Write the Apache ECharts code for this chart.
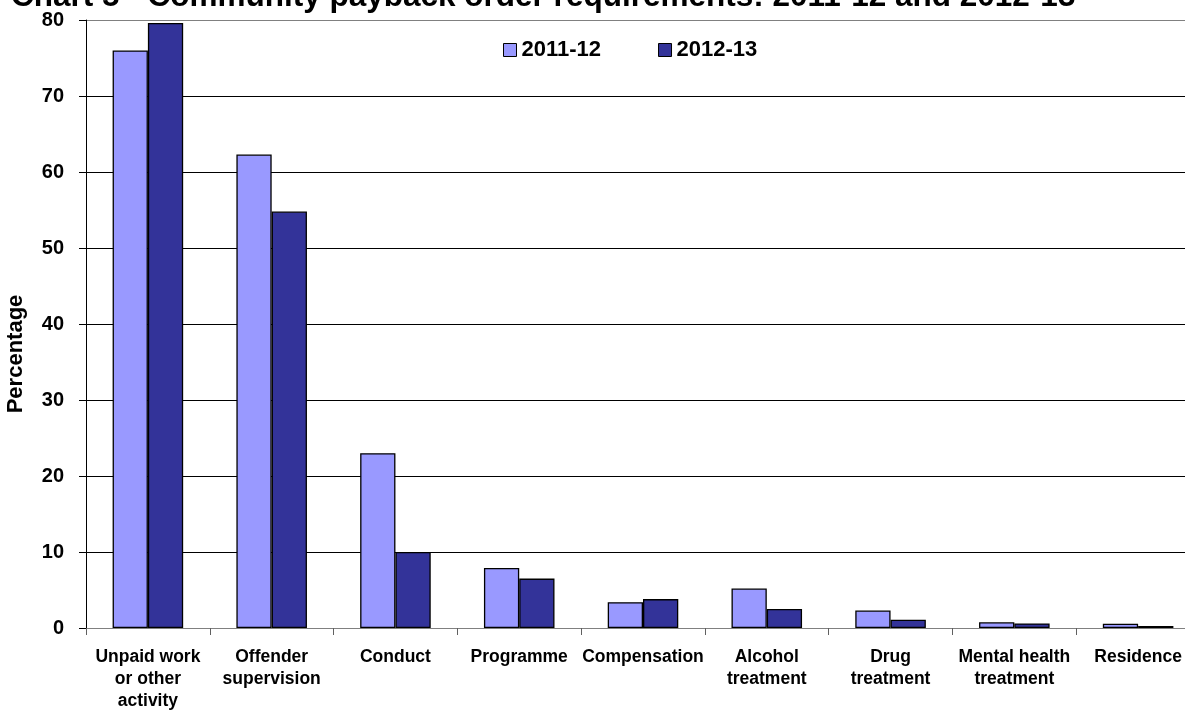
<!DOCTYPE html>
<html>
<head>
<meta charset="utf-8">
<script src="https://cdn.jsdelivr.net/npm/echarts@6/dist/echarts.min.js"></script>
<style>html,body{margin:0;padding:0;background:#fff;}#c{width:1185px;height:711px;}</style>
</head>
<body>
<div id="c"></div>
<script>
var categories = ["Unpaid work\nor other\nactivity", "Offender\nsupervision", "Conduct", "Programme", "Compensation", "Alcohol\ntreatment", "Drug\ntreatment", "Mental health\ntreatment", "Residence"];
var series2011 = [76.0, 62.3, 23.0, 7.9, 3.4, 5.2, 2.3, 0.75, 0.57];
var series2012 = [79.6, 54.8, 10.0, 6.5, 3.8, 2.5, 1.1, 0.6, 0.26];
var seriesNames = ["2011-12", "2012-13"];
var titleText = "Chart 5 - Community payback order requirements: 2011-12 and 2012-13";
var yAxisName = "Percentage";

var font = "Liberation Sans, Arial, sans-serif";
var chart = echarts.init(document.getElementById('c'), null, {renderer: 'canvas'});
chart.setOption({
  animation: false,
  backgroundColor: '#fff',
  title: {
    text: titleText, left: 11, top: -18, padding: 0,
    textStyle: {fontFamily: font, fontWeight: 'bold', fontSize: 31.5, color: '#000', lineHeight: 31}
  },
  legend: {
    data: seriesNames, left: 503, top: 39, padding: 0, itemGap: 57,
    itemWidth: 13, itemHeight: 13, icon: 'rect',
    textStyle: {fontFamily: font, fontWeight: 'bold', fontSize: 22, color: '#000', lineHeight: 22},
    itemStyle: {borderColor: '#000', borderWidth: 1}
  },
  grid: {left: 86, top: 20, right: -15, bottom: 83, containLabel: false, outerBoundsMode: 'none'},
  xAxis: {
    type: 'category', data: categories, boundaryGap: true,
    axisLine: {lineStyle: {color: '#808080', width: 1}},
    axisTick: {show: true, length: 7, interval: 0, lineStyle: {color: '#606060'}},
    axisLabel: {interval: 0, margin: 18, fontFamily: font, fontWeight: 'bold', fontSize: 17.5, lineHeight: 22, color: '#000'}
  },
  yAxis: {
    type: 'value', min: 0, max: 80, interval: 10,
    name: yAxisName, nameLocation: 'middle', nameGap: 59, nameRotate: 90,
    nameTextStyle: {fontFamily: font, fontWeight: 'bold', fontSize: 22, color: '#000', padding: [0, 60, 0, 0]},
    axisLine: {show: true, lineStyle: {color: '#000', width: 1}},
    axisTick: {show: true, length: 7, inside: false, lineStyle: {color: '#000'}},
    axisLabel: {margin: 22, fontFamily: font, fontWeight: 'bold', fontSize: 20, color: '#000'},
    splitLine: {show: true, lineStyle: {color: ['#808080', '#000', '#000', '#000', '#000', '#000', '#000', '#000', '#808080'], width: 1}}
  },
  series: [
    {name: seriesNames[0], type: 'bar', data: series2011, barGap: '0%', barCategoryGap: '43%',
     itemStyle: {color: '#9999FF', borderColor: '#000', borderWidth: 1.3}},
    {name: seriesNames[1], type: 'bar', data: series2012, barGap: '0%', barCategoryGap: '43%',
     itemStyle: {color: '#333399', borderColor: '#000', borderWidth: 1.3}}
  ]
});
</script>
</body>
</html>
